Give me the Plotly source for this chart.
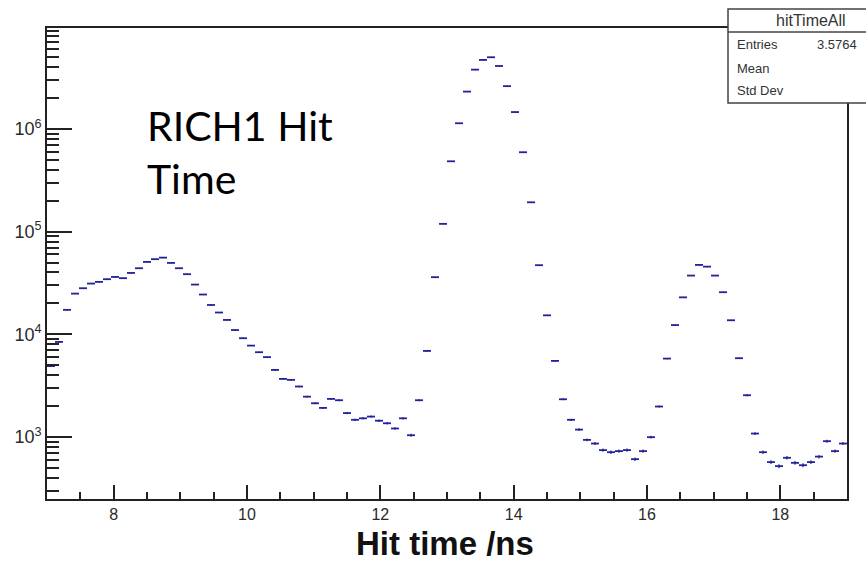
import numpy as np
import plotly.graph_objects as go

# Histogram: 100 bins from 7 to 19 ns
x_min, x_max, n_bins = 7.0, 19.0, 100
bin_width = (x_max - x_min) / n_bins
bin_centers = [x_min + bin_width * (i + 0.5) for i in range(n_bins)]

counts = [
    4900, 8430, 17300, 24900, 28100, 31200, 32400, 34400, 36200, 35200,
    39600, 44000, 50700, 53900, 55800, 49600, 44000, 38500, 30500, 24400,
    19300, 16300, 13800, 11000, 9160, 7760, 6690, 5990, 4500, 3680,
    3600, 3100, 2470, 2130, 1920, 2350, 2280, 1710, 1470, 1520,
    1580, 1440, 1360, 1210, 1520, 1040, 2280, 6890, 36000, 119000,
    484000, 1136000, 2310000, 3780000, 4700000, 4990000, 4100000, 2610000, 1460000, 593000,
    193000, 47100, 15300, 5510, 2330, 1470, 1180, 937, 863, 745,
    711, 728, 745, 608, 728, 996, 1980, 5800, 12300, 22900,
    37300, 47400, 45600, 37300, 25700, 13700, 5850, 2550, 1080, 711,
    569, 520, 627, 560, 531, 569, 644, 910, 728, 863,
]

x_tick_vals = [8, 10, 12, 14, 16, 18]
y_tick_vals = [1e3, 1e4, 1e5, 1e6]
y_tick_text = ["10<sup>3</sup>", "10<sup>4</sup>", "10<sup>5</sup>", "10<sup>6</sup>"]
y_minor_vals = [m * 10 ** e for e in range(2, 7) for m in range(2, 10)]

hist_color = "#22229a"
axis_color = "#222222"

W, H = 866, 563
L, R, T, B = 47, 847, 28, 499

def px_x(px):
    return (px - L) / (R - L)

def px_y(py):
    return (B - py) / (B - T)

fig = go.Figure()
fig.add_trace(go.Scatter(
    x=bin_centers,
    y=counts,
    mode="markers",
    marker=dict(size=1, color=hist_color),
    error_x=dict(type="constant", value=bin_width / 2, thickness=1.8, width=0, color=hist_color),
    error_y=dict(type="data", array=list(np.sqrt(counts)), thickness=1.2, width=0, color=hist_color),
    showlegend=False,
    hoverinfo="x+y",
))

fig.update_layout(
    width=W, height=H,
    margin=dict(l=L, r=W - R, t=T, b=H - B, autoexpand=False),
    paper_bgcolor="white",
    plot_bgcolor="white",
    font=dict(family="Liberation Sans, Arial, sans-serif", color=axis_color),
    xaxis=dict(
        range=[x_min, x_max],
        tickvals=x_tick_vals,
        ticks="inside", ticklen=14, tickwidth=1.5, tickcolor=axis_color,
        minor=dict(dtick=0.5, tick0=7, ticks="inside", ticklen=7, tickwidth=1.5, tickcolor=axis_color),
        showgrid=False, zeroline=False, automargin=False,
        showline=True, linecolor=axis_color, linewidth=1.8, mirror=True,
        tickfont=dict(size=16, color="#2a2a2a"),
    ),
    yaxis=dict(
        type="log",
        range=[2.396, 6.983],
        tickvals=y_tick_vals,
        ticktext=y_tick_text,
        ticks="inside", ticklen=25, tickwidth=1.5, tickcolor=axis_color,
        minor=dict(tickvals=y_minor_vals, ticks="inside", ticklen=12, tickwidth=1.5, tickcolor=axis_color),
        showgrid=False, zeroline=False, automargin=False,
        showline=True, linecolor=axis_color, linewidth=1.8, mirror=True,
        tickfont=dict(size=18, color="#2a2a2a"),
    ),
)

# Stats box (top right, partly outside the window)
fig.add_shape(type="rect", xref="paper", yref="paper",
              x0=px_x(728), x1=px_x(900), y0=px_y(103), y1=px_y(9),
              line=dict(color="#444444", width=1.5), fillcolor="white", layer="above")
fig.add_shape(type="line", xref="paper", yref="paper",
              x0=px_x(728), x1=px_x(900), y0=px_y(32), y1=px_y(32),
              line=dict(color="#444444", width=1.5), layer="above")

stats_font = dict(family="Liberation Sans, Arial, sans-serif", size=13, color="#333333")
fig.add_annotation(xref="paper", yref="paper", x=px_x(774), y=px_y(20), text="hitTimeAll",
                   showarrow=False, xanchor="left", yanchor="middle",
                   font=dict(family="Liberation Sans, Arial, sans-serif", size=16, color="#333333"))
for label, py in [("Entries", 44), ("Mean", 68), ("Std Dev", 91)]:
    fig.add_annotation(xref="paper", yref="paper", x=px_x(735), y=px_y(py), text=label,
                       showarrow=False, xanchor="left", yanchor="middle", font=stats_font)
fig.add_annotation(xref="paper", yref="paper", x=px_x(815), y=px_y(44), text="3.5764",
                   showarrow=False, xanchor="left", yanchor="middle", font=stats_font)

# Big label
fig.add_annotation(xref="paper", yref="paper", x=px_x(145), y=px_y(152),
                   text="RICH1 Hit<br>Time", showarrow=False, xanchor="left", yanchor="middle",
                   align="left",
                   font=dict(family="Lato, Open Sans, sans-serif", size=41, color="black"))

# X axis title
fig.add_annotation(xref="paper", yref="paper", x=px_x(445), y=px_y(543),
                   text="<b>Hit time /ns</b>", showarrow=False, xanchor="center", yanchor="middle",
                   borderpad=0,
                   font=dict(family="Liberation Sans, Arial, sans-serif", size=33, color="#111111"))

fig.write_html("out.html")
